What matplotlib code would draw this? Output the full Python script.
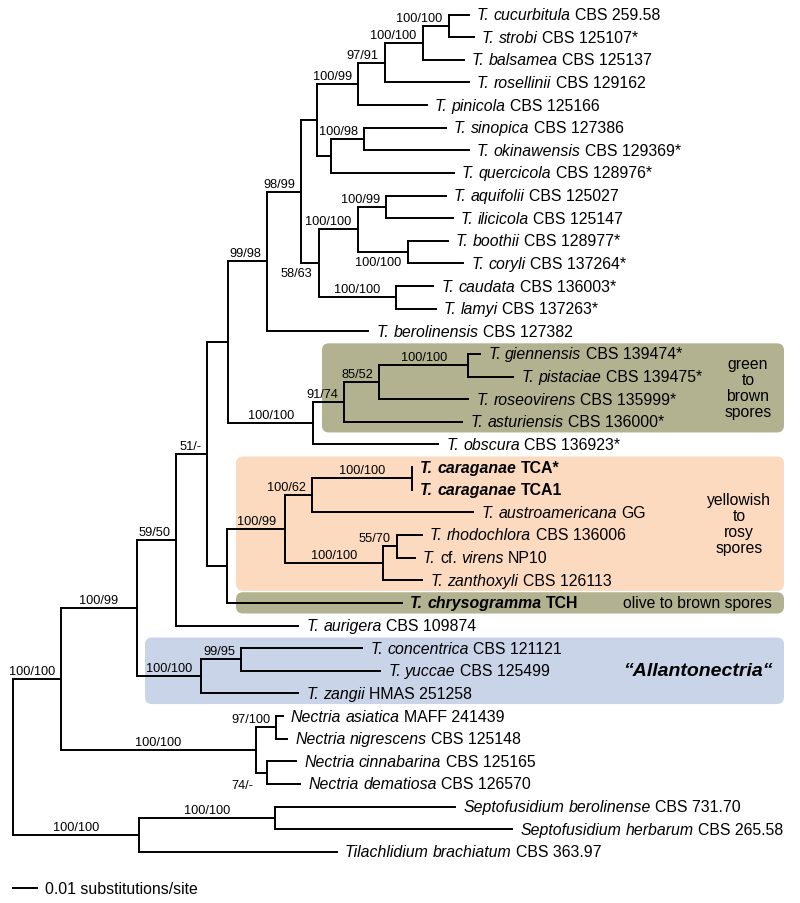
import matplotlib
matplotlib.use("Agg")
import matplotlib.pyplot as plt
from matplotlib.patches import FancyBboxPatch

plt.rcParams['font.family'] = ['Liberation Sans', 'DejaVu Sans']

# internal nodes (parents listed before children), branch lengths in subst./site
node_names = ["root", "CC", "BB", "AA", "Z", "S", "N", "M", "G", "D", "C", "B", "A",
              "F", "E", "L", "J", "H", "I", "K", "R", "Q", "P", "O", "Y", "X", "U",
              "T", "W", "V", "AL", "AC", "NE", "NA", "NB", "OG", "SP"]
node_parent = [None, "root", "CC", "BB", "AA", "Z", "S", "N", "M", "G", "D", "C", "B",
               "G", "F", "M", "L", "J", "J", "L", "S", "R", "Q", "P", "Z", "Y", "X",
               "U", "X", "W", "BB", "AL", "CC", "NE", "NE", "root", "OG"]
node_length = [0.0, 0.0200, 0.0317, 0.0163, 0.0129, 0.0088, 0.0163, 0.0142, 0.0063,
               0.0171, 0.0113, 0.0158, 0.0108, 0.0058, 0.0138, 0.0071, 0.0163, 0.0117,
               0.0208, 0.0321, 0.0354, 0.0129, 0.0146, 0.0371, 0.0083, 0.0242, 0.0113,
               0.0417, 0.0408, 0.0058, 0.0267, 0.0167, 0.0813, 0.0083, 0.0046, 0.0525,
               0.0567]
node_support = ["", "100/100", "100/99", "59/50", "51/-", "", "99/98", "98/99", "",
                "100/99", "97/91", "100/100", "100/100", "", "100/98", "58/63", "100/100",
                "100/99", "100/100", "100/100", "100/100", "91/74", "85/52", "100/100", "",
                "100/99", "100/62", "100/100", "100/100", "55/70", "100/100", "99/95",
                "100/100", "97/100", "74/-", "100/100", "100/100"]

# leaves, top to bottom
leaf_taxon = ["T. cucurbitula", "T. strobi", "T. balsamea", "T. rosellinii", "T. pinicola",
              "T. sinopica", "T. okinawensis", "T. quercicola", "T. aquifolii",
              "T. ilicicola", "T. boothii", "T. coryli", "T. caudata", "T. lamyi",
              "T. berolinensis", "T. giennensis", "T. pistaciae", "T. roseovirens",
              "T. asturiensis", "T. obscura", "T. caraganae", "T. caraganae",
              "T. austroamericana", "T. rhodochlora", "T. cf. virens", "T. zanthoxyli",
              "T. chrysogramma", "T. aurigera", "T. concentrica", "T. yuccae", "T. zangii",
              "Nectria asiatica", "Nectria nigrescens", "Nectria cinnabarina",
              "Nectria dematiosa", "Septofusidium berolinense", "Septofusidium herbarum",
              "Tilachlidium brachiatum"]
leaf_strain = ["CBS 259.58", "CBS 125107*", "CBS 125137", "CBS 129162", "CBS 125166",
               "CBS 127386", "CBS 129369*", "CBS 128976*", "CBS 125027", "CBS 125147",
               "CBS 128977*", "CBS 137264*", "CBS 136003*", "CBS 137263*", "CBS 127382",
               "CBS 139474*", "CBS 139475*", "CBS 135999*", "CBS 136000*", "CBS 136923*",
               "TCA*", "TCA1", "GG", "CBS 136006", "NP10", "CBS 126113", "TCH",
               "CBS 109874", "CBS 121121", "CBS 125499", "HMAS 251258", "MAFF 241439",
               "CBS 125148", "CBS 125165", "CBS 126570", "CBS 731.70", "CBS 265.58",
               "CBS 363.97"]
leaf_parent = ["A", "A", "B", "C", "D", "E", "E", "F", "H", "H", "I", "I", "K", "K", "N",
               "O", "O", "P", "Q", "R", "T", "T", "U", "V", "V", "W", "Y", "AA", "AC",
               "AC", "AL", "NA", "NA", "NB", "NB", "SP", "SP", "OG"]
leaf_length = [0.0083, 0.0104, 0.0171, 0.0350, 0.0288, 0.0342, 0.0438, 0.0513, 0.0250,
               0.0279, 0.0167, 0.0233, 0.0158, 0.0167, 0.0421, 0.0050, 0.0188, 0.0371,
               0.0492, 0.0521, 0.0, 0.0, 0.0671, 0.0104, 0.0075, 0.0163, 0.0729, 0.0508,
               0.0504, 0.0579, 0.0404, 0.0029, 0.0046, 0.0121, 0.0138, 0.0750, 0.0988,
               0.0825]
bold_strains = ["TCA*", "TCA1", "TCH"]

# coloured clades: (first leaf, last leaf, left edge px, colour)
clade_boxes = [(15, 18, 322, "#b3b290"), (20, 25, 236, "#fcdac0"),
               (26, 26, 236, "#b3b290"), (28, 30, 145, "#c9d4e9")]

PX_X = 2400.0      # pixels per subst./site
PX_Y = 22.63       # pixels per leaf row
X0, Y0 = 13, 15.5  # pixel position of root / first row

x, y, children = {}, {}, {n: [] for n in node_names}
for n, p, l in zip(node_names, node_parent, node_length):
    x[n] = 0.0 if p is None else x[p] + l
for i, (p, l) in enumerate(zip(leaf_parent, leaf_length)):
    x[i] = x[p] + l
    y[i] = i
    children[p].append(i)
for n, p in zip(node_names, node_parent):
    if p is not None:
        children[p].append(n)
parent = dict(zip(node_names, node_parent))
parent.update(dict(enumerate(leaf_parent)))


def node_y(n):
    if n not in y:
        ys = [node_y(c) for c in children[n]]
        y[n] = sum(ys) / len(ys)
    return y[n]


node_y("root")

fig = plt.figure(figsize=(8, 9.04), dpi=100)
ax = fig.add_axes([0, 0, 1, 1])
ax.set_xlim(-X0 / PX_X, (800 - X0) / PX_X)
ax.set_ylim((904 - Y0) / PX_Y, -Y0 / PX_Y)
ax.axis("off")

dx = 1 / PX_X
dy = 1 / PX_Y

for first, last, left, col in clade_boxes:
    box = FancyBboxPatch(((left - X0) * dx, first - 0.47), (784 - left) * dx,
                         last - first + 0.94,
                         boxstyle="round,pad=0,rounding_size=%f" % (7 * dx),
                         mutation_aspect=PX_X / PX_Y, fc=col, ec="none", zorder=0)
    ax.add_patch(box)

lw = 1.4
for n in list(node_names) + list(range(len(leaf_taxon))):
    p = parent[n]
    if p is not None:
        ax.plot([x[p], x[n]], [y[n], y[n]], color="black", lw=lw,
                solid_capstyle="projecting", zorder=2)
for n in node_names:
    ys = [y[c] for c in children[n]]
    ax.plot([x[n], x[n]], [min(ys), max(ys)], color="black", lw=lw,
            solid_capstyle="projecting", zorder=2)

# support values
below = ["I", "L"]
for n, s in zip(node_names, node_support):
    if not s:
        continue
    p = parent[n]
    stem = (x[n] - x[p]) * PX_X
    w = len(s) * 6.3
    if n == "NB":
        ax.text(x[p] - 3 * dx, y[n] + 6 * dy, s, ha="right", va="top", fontsize=9.2)
    elif n in below:
        ax.text(x[n] - 6 * dx, y[n] + 4 * dy, s, ha="right", va="top", fontsize=9.2)
    elif stem >= w + 14:
        ax.text((x[n] + x[p]) / 2, y[n] - 2 * dy, s, ha="center", va="bottom",
                fontsize=9.2)
    else:
        ax.text(x[n] - 6 * dx, y[n] - 2 * dy, s, ha="right", va="bottom", fontsize=9.2)

# leaf labels, italic names with upright strain numbers
fs = 11.4
gap = 0.278 * fs
for i, (taxon, strain) in enumerate(zip(leaf_taxon, leaf_strain)):
    weight = "bold" if strain in bold_strains else "normal"
    pieces = [(w, "normal" if w == "cf." else "italic") for w in taxon.split()]
    pieces.append((strain, "normal"))
    prev = None
    for word, style in pieces:
        if prev is None:
            prev = ax.text(x[i] + 8 * dx, y[i], word, ha="left", va="center",
                           fontsize=fs, style=style, fontweight=weight)
        else:
            prev = ax.annotate(word, xy=(1, 0), xycoords=prev, xytext=(gap, 0),
                               textcoords="offset points", ha="left", va="bottom",
                               fontsize=fs, style=style, fontweight=weight)

# clade captions
ax.text((748 - X0) * dx, 16.5, "green\nto\nbrown\nspores", ha="center", va="center",
        fontsize=11.3, linespacing=1.08)
ax.text((739 - X0) * dx, 22.5, "yellowish\nto\nrosy\nspores", ha="center", va="center",
        fontsize=11.3, linespacing=1.08)
ax.text((772 - X0) * dx, 26, "olive to brown spores", ha="right", va="center",
        fontsize=11.3)
ax.text((698 - X0) * dx, 29, "\u201cAllantonectria\u201c", ha="center", va="center",
        fontsize=14, fontweight="bold", style="italic")

# scale bar
sb_y = len(leaf_taxon) - 1 + 1.6
ax.plot([0, 0.01], [sb_y, sb_y], color="black", lw=lw)
ax.text(0.01 + 8 * dx, sb_y, "0.01 substitutions/site", ha="left", va="center",
        fontsize=11.4)

fig.savefig("out.png", dpi=100)
